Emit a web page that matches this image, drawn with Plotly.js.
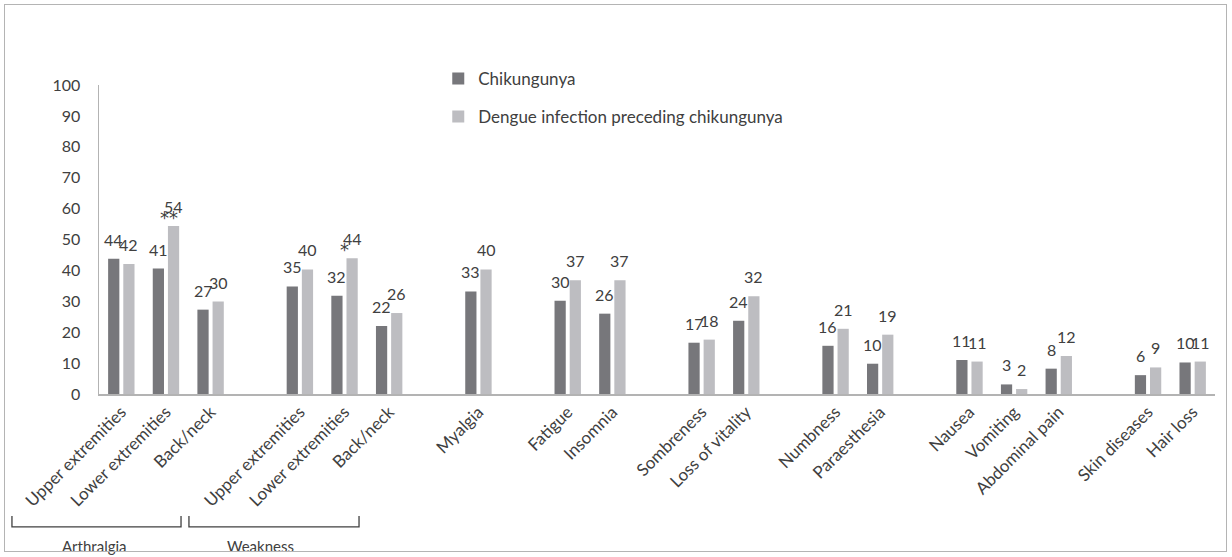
<!DOCTYPE html>
<html>
<head>
<meta charset="utf-8">
<script src="https://cdn.plot.ly/plotly-3.0.1.min.js"></script>
<style>
  html, body { margin: 0; padding: 0; background: #fff; }
  #wrap { position: relative; width: 1232px; height: 557px; }
  #chart { width: 1232px; height: 557px; }
  #frame { position: absolute; left: 4px; top: 4px; width: 1221px; height: 546px;
           border: 1.5px solid #b4b4b4; pointer-events: none; }
</style>
</head>
<body>
<div id="wrap">
  <div id="chart"></div>
  <div id="frame"></div>
</div>
<script>
// ---- data ----
const categories = ["Upper extremities","Lower extremities","Back/neck",
  "Upper extremities","Lower extremities","Back/neck",
  "Myalgia","Fatigue","Insomnia","Sombreness","Loss of vitality",
  "Numbness","Paraesthesia","Nausea","Vomiting","Abdominal pain",
  "Skin diseases","Hair loss"];
const groups = ["Arthralgia","Arthralgia","Arthralgia",
  "Weakness","Weakness","Weakness",
  "Myalgia","Fatigue","Fatigue","Mood","Mood",
  "Sensory","Sensory","Gastro","Gastro","Gastro",
  "Skin","Skin"];
const chikungunya = [43.8,40.6,27.3, 34.8,31.8,22.0, 33.2, 30.2,26.0, 16.6,23.7, 15.6,9.8, 11.0,3.1,8.2, 6.1,10.2];
const dengue      = [42.1,54.4,29.9, 40.3,43.9,26.2, 40.3, 36.8,36.8, 17.6,31.6, 21.1,19.2, 10.5,1.6,12.3, 8.6,10.5];
const dengueSignificance = ["","**","", "","*","", "", "","", "","", "","", "","","", "",""];
const seriesNames = ["Chikungunya","Dengue infection preceding chikungunya"];
const yTicks = [0,10,20,30,40,50,60,70,80,90,100];

// ---- derived slot positions (one empty slot between groups) ----
const xPos = [];
let slot = 0;
categories.forEach((c, i) => {
  if (i > 0 && groups[i] !== groups[i-1]) slot += 1;
  xPos.push(slot);
  slot += 1;
});
const nSlots = slot;

const FONT = "Lato, 'Open Sans', sans-serif";
const TXT = "#404040";
const DARK = "#77777b";
const LIGHT = "#bdbdc1";
const BARGAP = 0.32;
const OFF = (1 - BARGAP) / 4;   // centre offset of each bar in a group

const traces = [
  { type: "bar", name: seriesNames[0], x: xPos, y: chikungunya,
    marker: { color: DARK }, legendgroup: "a", hoverinfo: "none" },
  { type: "bar", name: seriesNames[1], x: xPos, y: dengue,
    marker: { color: LIGHT }, legendgroup: "b", hoverinfo: "none" }
];

const annotations = [];
[chikungunya, dengue].forEach((vals, s) => {
  vals.forEach((v, i) => {
    annotations.push({
      x: xPos[i] + (s === 0 ? -OFF : OFF), y: v, xref: "x", yref: "y",
      text: String(Math.round(v)), showarrow: false,
      yanchor: "bottom", yshift: 8,
      font: { family: FONT, size: 16, color: TXT }
    });
  });
});
dengueSignificance.forEach((sig, i) => {
  if (!sig) return;
  annotations.push({
    x: xPos[i] + OFF, y: dengue[i], xref: "x", yref: "y",
    text: sig, showarrow: false, yanchor: "bottom", yshift: -4,
    xshift: sig.length > 1 ? -5 : -8,
    font: { family: "'DejaVu Sans', sans-serif", size: 18, color: TXT }
  });
});
annotations.push(
  { x: -0.004, y: -0.491, xref: "paper", yref: "paper", text: "Arthralgia", showarrow: false,
    xanchor: "center", yanchor: "middle", font: { family: FONT, size: 15, color: TXT } },
  { x: 0.145, y: -0.491, xref: "paper", yref: "paper", text: "Weakness", showarrow: false,
    xanchor: "center", yanchor: "middle", font: { family: FONT, size: 15, color: TXT } }
);

const bracket = (x0, x1) => ({
  type: "path", xref: "paper", yref: "paper",
  path: `M ${x0},-0.395 L ${x0},-0.430 L ${x1},-0.430 L ${x1},-0.395`,
  line: { color: TXT, width: 1.3 }
});

const layout = {
  width: 1232, height: 557,
  margin: { l: 99, r: 17, t: 85, b: 163, pad: 0 },
  paper_bgcolor: "#fff", plot_bgcolor: "#fff",
  barmode: "group", bargap: BARGAP, bargroupgap: 0.26,
  font: { family: FONT, size: 16, color: TXT },
  xaxis: {
    range: [-0.5, nSlots - 0.5], tickvals: xPos, ticktext: categories,
    tickangle: -45, showgrid: false, zeroline: false, ticks: "",
    showline: true, linecolor: "#b3b3b3", linewidth: 1.5,
    tickfont: { family: FONT, size: 17, color: TXT }, fixedrange: true
  },
  yaxis: {
    range: [0, 100], tickvals: yTicks, showgrid: false, zeroline: false, ticks: "",
    showline: true, linecolor: "#b3b3b3", linewidth: 1.5, ticklabelstandoff: 14,
    tickfont: { family: FONT, size: 16, color: TXT }, fixedrange: true
  },
  showlegend: true,
  legend: {
    x: 0.304, y: 1.078, xanchor: "left", yanchor: "top",
    traceorder: "grouped", tracegroupgap: 13,
    font: { family: FONT, size: 17, color: TXT }, bgcolor: "rgba(0,0,0,0)"
  },
  annotations: annotations,
  shapes: [bracket(-0.078, 0.0735), bracket(0.0806, 0.233)]
};

Plotly.newPlot("chart", traces, layout, { displayModeBar: false, staticPlot: true });
</script>
</body>
</html>
